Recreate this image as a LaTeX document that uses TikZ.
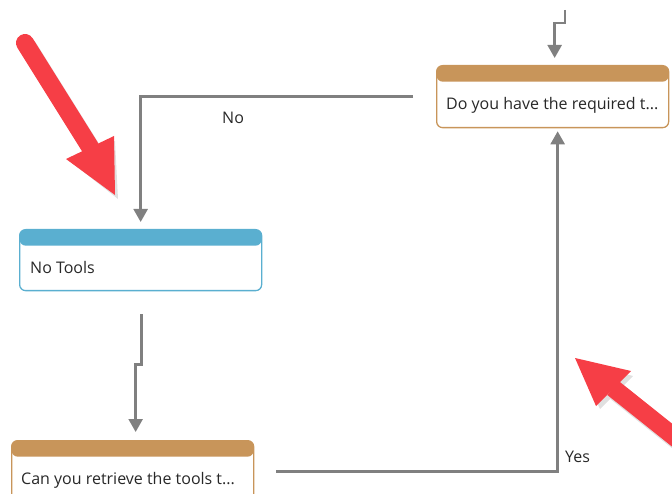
\documentclass[tikz,border=0pt]{standalone}
\usepackage{fontspec}
\setmainfont{Open Sans}
\usetikzlibrary{arrows.meta}
\definecolor{tan}{RGB}{200,149,90}
\definecolor{sky}{RGB}{90,175,208}
\definecolor{conngray}{RGB}{128,128,128}
\definecolor{redarrow}{RGB}{246,62,70}
\definecolor{txt}{RGB}{40,40,40}
\tikzset{
  box/.style={draw=#1, line width=1.3pt, rounded corners=6pt, fill=white, anchor=north west,
    inner sep=0pt,
    path picture={\fill[#1] (path picture bounding box.north west) rectangle ([yshift=-16pt]path picture bounding box.north east);}},
  lbl/.style={font=\fontsize{16}{18}\selectfont, text=txt, inner sep=0pt, anchor=west},
  conn/.style={draw=conngray, line width=2.4pt, -{Triangle[width=14pt,length=13pt]}},
}
\begin{document}
\begin{tikzpicture}[x=1pt,y=-1pt]
\useasboundingbox (0,0) rectangle (672,494);
\clip (0,0) rectangle (672,494);
% boxes
\node[box=tan, minimum width=232pt, minimum height=62pt] (q1) at (436,65) {};
\node[lbl] (q1t) at (446,105) {Do you have the required t...};
\node[box=sky, minimum width=242pt, minimum height=61pt] (nt) at (19,229) {};
\node[lbl] (ntt) at (30,268) {No Tools};
\node[box=tan, minimum width=242pt, minimum height=62pt] (q2) at (11,440) {};
\node[lbl] (q2t) at (21,480) {Can you retrieve the tools t...};
% connectors
\coordinate (topin) at (565,10);
\draw[conn, shorten >=7pt] (topin) -- ++(0,13) -| ([xshift=2pt]q1.north);
\draw[conn, shorten >=7pt] ([xshift=-23pt]q1.west) -| (nt.north);
\draw[conn, shorten >=8pt] ([xshift=1pt,yshift=-23pt]nt.south) -- ++(0,50) -| ([xshift=3pt]q2.north);
\draw[conn, shorten >=3pt] ([xshift=22pt]q2.east) -| ([xshift=5pt]q1.south);
\node[lbl] (no) at (222,118) {No};
\node[lbl] (yes) at (565,457) {Yes};
% red arrows
\begin{scope}
\draw[black, opacity=0.12, line width=18pt, line cap=round] (28,47) -- (93,151);
\fill[black, opacity=0.12] (71,162) -- (115,141) -- (118,199) -- cycle;
\draw[redarrow, line width=18pt, line cap=round] (25,43) -- (90,147);
\fill[redarrow] (66,159) -- (114,136) -- (115,195) -- cycle;
\draw[black, opacity=0.12, line width=18pt] (616,392) -- (700,459);
\fill[black, opacity=0.12] (633,376) -- (600,409) -- (578,362) -- cycle;
\draw[redarrow, line width=18pt] (613,388) -- (697,455);
\fill[redarrow] (631,371) -- (596,406) -- (575,358) -- cycle;
\end{scope}
\end{tikzpicture}
\end{document}
